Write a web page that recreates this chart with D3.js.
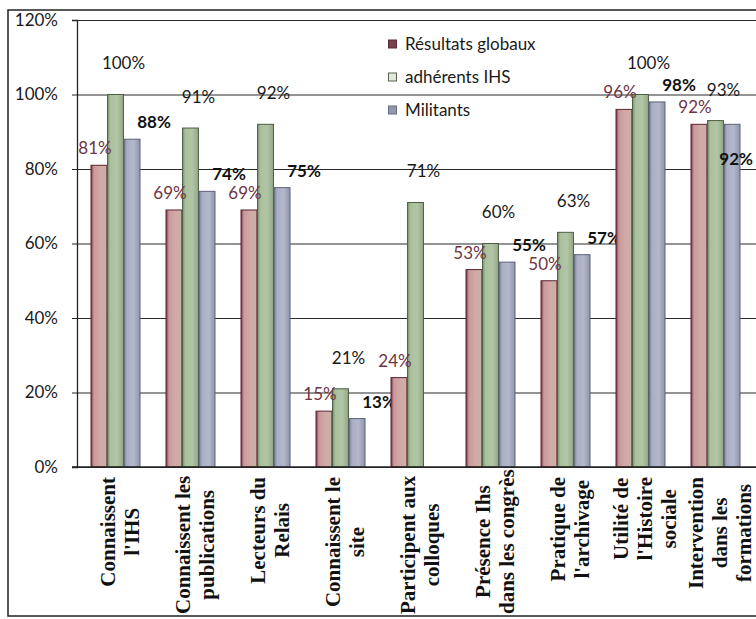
<!DOCTYPE html>
<html>
<head>
<meta charset="utf-8">
<script src="https://cdn.jsdelivr.net/npm/d3@7"></script>
<style>
  body { margin: 0; background: #fff; }
  .tick text { font-family: Lato, "Open Sans", sans-serif; }
</style>
</head>
<body>
<svg width="756" height="619"></svg>
<script>
// data
var categories = [
  ["Connaissent", "l'IHS"],
  ["Connaissent les", "publications"],
  ["Lecteurs du", "Relais"],
  ["Connaissent le", "site"],
  ["Participent aux", "colloques"],
  ["Présence Ihs", "dans les congrès"],
  ["Pratique de", "l'archivage"],
  ["Utilité de", "l'Histoire", "sociale"],
  ["Intervention", "dans les", "formations"]
];
var seriesNames = ["Résultats globaux", "adhérents IHS", "Militants"];
var globaux = [81, 69, 69, 15, 24, 53, 50, 96, 92];
var adherents = [100, 91, 92, 21, 71, 60, 63, 100, 93];
var militants = [88, 74, 75, 13, null, 55, 57, 98, 92];
var yTicks = [0, 20, 40, 60, 80, 100, 120];

var svg = d3.select("svg"),
    width = +svg.attr("width"),
    height = +svg.attr("height");

var values = [globaux, adherents, militants];
var keys = categories.map(function(c) { return c.join(" "); });

var x0 = d3.scaleBand().domain(keys).range([77.5, 752.5]);
var x1 = d3.scaleBand().domain(seriesNames).range([13.5, 62.5]).paddingInner(0.04);
var y = d3.scaleLinear().domain([0, 120]).range([467, 20]);

// bar gradients
var defs = svg.append("defs");
var grads = [
  { id: "gRed", stops: ["#7a3444", "#c99a9c", "#d2aaa6", "#c4b2a4"], stroke: "#5c2432" },
  { id: "gGreen", stops: ["#7e9474", "#a9c09d", "#b2c6a6", "#93a888"], stroke: "#4d5c45" },
  { id: "gBlue", stops: ["#747a94", "#a9aec4", "#b3b8cb", "#8f95ab"], stroke: "#5c6276" }
];
grads.forEach(function(g) {
  var lg = defs.append("linearGradient").attr("id", g.id)
    .attr("x1", "0%").attr("x2", "100%").attr("y1", "0%").attr("y2", "0%");
  [0, 0.18, 0.6, 1].forEach(function(o, i) {
    lg.append("stop").attr("offset", o).attr("stop-color", g.stops[i]);
  });
});

// outer frame
svg.append("rect")
  .attr("x", 8).attr("y", 10)
  .attr("width", 770).attr("height", 606)
  .attr("fill", "none").attr("stroke", "#222").attr("stroke-width", 1.5);

// gridlines
svg.append("g")
  .attr("transform", "translate(77,0)")
  .call(d3.axisLeft(y).tickValues(yTicks).tickSize(-(width - 77)).tickFormat(""))
  .call(function(g) { g.select(".domain").remove(); })
  .selectAll("line").attr("stroke", "#2a2a2a").attr("stroke-width", 1.2);

// y axis
var yAxis = svg.append("g")
  .attr("transform", "translate(77,0)")
  .call(d3.axisLeft(y).tickValues(yTicks).tickSize(5).tickPadding(14)
    .tickFormat(function(d) { return d + "%"; }));
yAxis.select(".domain").attr("stroke", "#222").attr("stroke-width", 1.3);
yAxis.selectAll("text").attr("font-size", "17px").attr("fill", "#1a1a1a");
yAxis.selectAll("line").attr("stroke", "#222");

// bars
var groups = svg.selectAll(".grp")
  .data(keys).enter()
  .append("g")
  .attr("class", "grp")
  .attr("transform", function(d) { return "translate(" + x0(d) + ",0)"; });

seriesNames.forEach(function(s, si) {
  groups.filter(function(d, i) { return values[si][i] != null; })
    .append("rect")
    .attr("x", x1(s))
    .attr("width", x1.bandwidth())
    .attr("y", function(d) { return y(values[si][keys.indexOf(d)]); })
    .attr("height", function(d) { return y(0) - y(values[si][keys.indexOf(d)]); })
    .attr("fill", "url(#" + grads[si].id + ")")
    .attr("stroke", grads[si].stroke)
    .attr("stroke-width", 1);
});

// x axis line
svg.append("line")
  .attr("x1", 72).attr("x2", width)
  .attr("y1", y(0)).attr("y2", y(0))
  .attr("stroke", "#222").attr("stroke-width", 1.3);

// data labels, each series has its own habit in the original
var labelStyle = [
  { dx: -4, dy: -17, fill: "#6e3545", weight: "normal" },
  { dx: 8, dy: -31, fill: "#1a1a1a", weight: "normal" },
  { dx: 22, dy: -17, fill: "#111", weight: "bold" }
];
seriesNames.forEach(function(s, si) {
  groups.filter(function(d, i) { return values[si][i] != null; })
    .append("text")
    .attr("class", "lbl")
    .attr("x", x1(s) + x1.bandwidth() / 2 + labelStyle[si].dx)
    .attr("y", function(d) { return y(values[si][keys.indexOf(d)]) + labelStyle[si].dy; })
    .attr("dy", "0.35em")
    .attr("text-anchor", "middle")
    .attr("font-family", "Lato, 'Open Sans', sans-serif")
    .attr("font-size", "17px")
    .attr("font-weight", labelStyle[si].weight)
    .attr("fill", labelStyle[si].fill)
    .text(function(d) { return values[si][keys.indexOf(d)] + "%"; });
});

// keep labels inside the right edge (last one sits lower, over the bar)
svg.selectAll(".lbl").each(function() {
  var t = d3.select(this);
  var b = this.getBoundingClientRect();
  if (b.right > width - 2) {
    t.attr("x", +t.attr("x") - (b.right - width + 3))
     .attr("y", +t.attr("y") + 52);
  }
});

// category labels, rotated, several lines
groups.each(function(d, i) {
  var g = d3.select(this);
  var lines = categories[i];
  var cx = x0.bandwidth() / 2;
  var texts = lines.map(function(line, li) {
    var bx = cx + 12 + (li - (lines.length - 1) / 2) * 24;
    return g.append("text")
      .attr("font-family", "'Liberation Serif', 'Times New Roman', serif")
      .attr("font-weight", "bold")
      .attr("font-size", "21px")
      .attr("fill", "#111")
      .attr("text-anchor", "middle")
      .attr("data-bx", bx)
      .text(line);
  });
  var maxLen = d3.max(texts, function(t) { return t.node().getComputedTextLength(); });
  var cy = Math.min(477 + maxLen / 2, 614 - maxLen / 2);
  texts.forEach(function(t) {
    t.attr("transform", "translate(" + t.attr("data-bx") + "," + cy + ") rotate(-90)");
  });
});

// legend
var legend = svg.append("g").attr("transform", "translate(388,44)");
var markers = [
  { fill: "#7a4050", stroke: "#5a2a36" },
  { fill: "#e3e8dc", stroke: "#55624f" },
  { fill: "#9398ae", stroke: "#676c80" }
];
seriesNames.forEach(function(s, i) {
  var row = legend.append("g").attr("transform", "translate(0," + i * 33 + ")");
  row.append("rect")
    .attr("x", 0.5).attr("y", -4)
    .attr("width", 8).attr("height", 8)
    .attr("fill", markers[i].fill)
    .attr("stroke", markers[i].stroke)
    .attr("stroke-width", 1);
  row.append("text")
    .attr("x", 17).attr("dy", "0.35em")
    .attr("font-family", "Lato, 'Open Sans', sans-serif")
    .attr("font-size", "17px")
    .attr("fill", "#1a1a1a")
    .text(s);
});
</script>
</body>
</html>
